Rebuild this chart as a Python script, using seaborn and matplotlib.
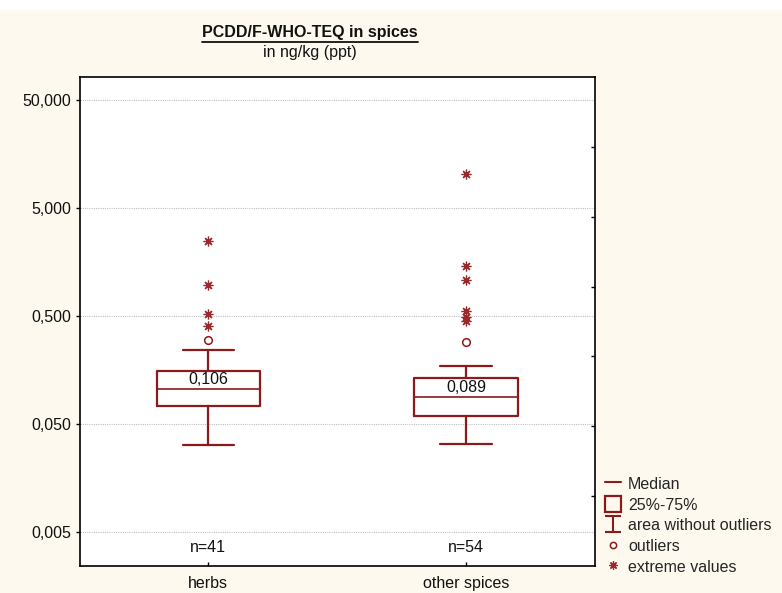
import numpy as np
import pandas as pd
import matplotlib
matplotlib.use("Agg")
import matplotlib.pyplot as plt
import seaborn as sns
from matplotlib.lines import Line2D
from matplotlib.patches import Patch, Rectangle
from matplotlib.path import Path

# data (ng/kg)
categories = ['herbs', 'other spices']
n_counts = [41, 54]
medians = [0.106, 0.089]
q1 = [0.0734, 0.0597]
q3 = [0.156, 0.132]
whisk_lo = [0.0322, 0.0326]
whisk_hi = [0.242, 0.172]
outliers = {'herbs': [0.298], 'other spices': [0.287]}
extremes = {'herbs': [0.404, 0.519, 0.968, 2.49],
            'other spices': [0.452, 0.494, 0.56, 1.077, 1.46, 10.3]}
ytick_vals = [0.005, 0.05, 0.5, 5, 50]
ytick_labels = ['0,005', '0,050', '0,500', '5,000', '50,000']
median_labels = ['0,106', '0,089']

RED = '#8b1a1a'
BG = '#fdf9ee'
FS = 11.5

sns.set_theme(style='white')
plt.rcParams['font.family'] = ['Liberation Sans', 'DejaVu Sans']

fig = plt.figure(figsize=(7.82, 5.93), dpi=100, facecolor=BG)
fig.patches.append(Rectangle((0, 1 - 10 / 593), 1, 10 / 593, transform=fig.transFigure,
                             facecolor='white', edgecolor='none', zorder=0))
ax = fig.add_axes([0.1017, 0.0455, 0.659, 0.8245])
ax.set_facecolor('white')

# boxes from summary stats
stats = []
for i, c in enumerate(categories):
    stats.append({'label': c, 'med': medians[i], 'q1': q1[i], 'q3': q3[i],
                  'whislo': whisk_lo[i], 'whishi': whisk_hi[i], 'fliers': []})
ax.bxp(stats, positions=range(len(categories)), widths=0.4, capwidths=0.2,
       showfliers=False, patch_artist=False,
       boxprops=dict(color=RED, linewidth=1.6),
       whiskerprops=dict(color=RED, linewidth=1.6),
       capprops=dict(color=RED, linewidth=1.6),
       medianprops=dict(color=RED, linewidth=1.2))

# outliers and extreme values
pts = pd.DataFrame(
    [(c, v, 'outlier') for c in categories for v in outliers[c]] +
    [(c, v, 'extreme') for c in categories for v in extremes[c]],
    columns=['group', 'value', 'kind'])
pts['x'] = pts['group'].map({c: i for i, c in enumerate(categories)})
o = pts[pts.kind == 'outlier']
e = pts[pts.kind == 'extreme']
ax.plot(o['x'], o['value'], 'o', mfc='white', mec=RED, mew=1.1, ms=5.5, ls='none')
ax.plot(e['x'], e['value'], marker=(8, 2, 0), color='#9a2a2a', mew=0.9, ms=7, ls='none')

ax.set_yscale('log')
ax.set_ylim(0.00242, 81.6)
ax.set_xlim(-0.5, 1.5)
ax.set_yticks(ytick_vals)
ax.set_yticklabels(ytick_labels, fontsize=FS, color='#111111')
ax.yaxis.set_minor_locator(matplotlib.ticker.NullLocator())
ax.set_xticks(range(len(categories)))
ax.set_xticklabels(categories, fontsize=FS, color='#111111')
ax.tick_params(axis='y', direction='out', length=3, width=1, color='black', left=True, pad=3)
ax.tick_params(axis='x', direction='in', length=3, width=1, color='black', bottom=True, pad=7)
ax.grid(axis='y', color='#c0c0c0', linestyle=(0, (1, 1)), linewidth=0.8)
ax.set_axisbelow(True)
for s in ax.spines.values():
    s.set_color('black')
    s.set_linewidth(1.2)

# right axis minor marks
ax2 = ax.twinx()
ax2.set_ylim(0, 7)
ax2.set_yticks(range(1, 7))
ax2.set_yticklabels([])
ax2.tick_params(axis='y', direction='in', length=3, width=1, color='black', right=True)
ax2.grid(False)
for s in ax2.spines.values():
    s.set_visible(False)

# median values and counts
for i in range(len(categories)):
    ax.text(i, np.sqrt(medians[i] * q3[i]), median_labels[i], ha='center', va='center',
            fontsize=FS, color='#111111')
    ax.text(i, 0.0036, f'n={n_counts[i]}', ha='center', va='center', fontsize=FS, color='#111111')

# title
title = fig.text(310 / 782, 1 - 33 / 593, 'PCDD/F-WHO-TEQ in spices', ha='center', va='center',
                 fontsize=FS, fontweight='bold', color='#111111')
fig.text(310 / 782, 1 - 53 / 593, 'in ng/kg (ppt)', ha='center', va='center',
         fontsize=FS, color='#111111')
fig.canvas.draw()
bb = title.get_window_extent()
W, H = fig.canvas.get_width_height()
uy = (bb.y0 - 1) / H
fig.add_artist(Line2D([bb.x0 / W, bb.x1 / W], [uy, uy], color='#111111', lw=1.3,
                      transform=fig.transFigure))

# legend
whisk_path = Path([(-0.9, 1), (0.9, 1), (0, 1), (0, -1), (-0.9, -1), (0.9, -1)],
                  [Path.MOVETO, Path.LINETO, Path.MOVETO, Path.LINETO, Path.MOVETO, Path.LINETO])
handles = [
    Line2D([], [], color=RED, lw=1.5),
    Patch(facecolor='none', edgecolor=RED, linewidth=1.6),
    Line2D([], [], ls='none', marker=whisk_path, ms=12, mec=RED, mew=1.5),
    Line2D([], [], ls='none', marker='o', mfc='none', mec=RED, mew=1.1, ms=4.5),
    Line2D([], [], ls='none', marker=(8, 2, 0), color='#9a2a2a', mew=0.9, ms=6),
]
labels = ['Median', '25%-75%', 'area without outliers', 'outliers', 'extreme values']
fig.legend(handles, labels, loc='lower left', bbox_to_anchor=(605 / 782, 18 / 593),
           frameon=False, fontsize=FS, borderpad=0, borderaxespad=0, handlelength=1.0,
           handleheight=1.15, handletextpad=0.45, labelspacing=0.28)

fig.savefig('out.png', dpi=100, facecolor=BG)
